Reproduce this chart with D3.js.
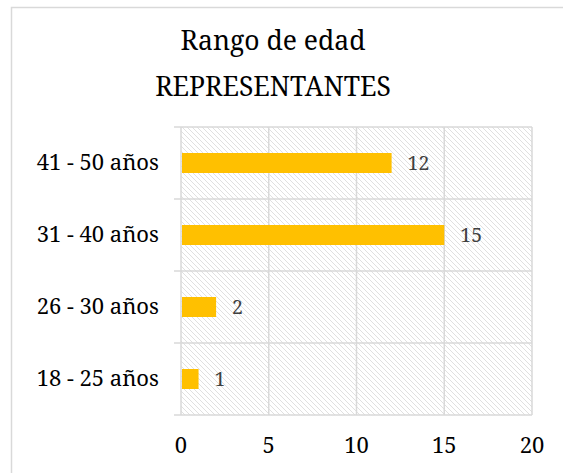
<!DOCTYPE html>
<html>
<head>
<meta charset="utf-8">
<script src="https://cdn.jsdelivr.net/npm/d3@7"></script>
<style>
  body { margin: 0; background: #fff; }
</style>
</head>
<body>
<svg id="chart" width="563" height="473"></svg>
<script>
// chart data
const categories = ['18 - 25 años', '26 - 30 años', '31 - 40 años', '41 - 50 años'];
const values = [1, 2, 15, 12];
const xTicks = [0, 5, 10, 15, 20];
const titleLines = ['Rango de edad', 'REPRESENTANTES'];

const yellow = '#FFC000';
const grid = '#d9d9d9';
const font = 'Noto Serif, Liberation Serif, serif';

var svg = d3.select('#chart').attr('font-family', font);
var margin = { left: 181, right: 31, top: 127, bottom: 58 };
var width = 563, height = 473;

// outer frame (right/bottom edges fall outside the picture)
svg.append('rect')
  .attr('x', 11.5).attr('y', 7.5)
  .attr('width', 600).attr('height', 600)
  .attr('fill', '#fff')
  .attr('stroke', grid).attr('stroke-width', 1.5);

// hatch pattern for the plot area
var defs = svg.append('defs');
var pat = defs.append('pattern')
  .attr('id', 'hatch')
  .attr('patternUnits', 'userSpaceOnUse')
  .attr('width', 5).attr('height', 5);
pat.append('rect').attr('width', 5).attr('height', 5).attr('fill', '#fff');
pat.append('path')
  .attr('d', 'M-1,-1 L6,6 M-1,4 L1,6 M4,-1 L6,1')
  .attr('stroke', '#e0e0e0').attr('stroke-width', 1);

var x = d3.scaleLinear().domain([0, 20]).range([margin.left, width - margin.right]);
var y = d3.scaleBand().domain(categories.slice().reverse())
  .range([margin.top, height - margin.bottom]).paddingInner(0).paddingOuter(0);

svg.append('rect')
  .attr('x', x(0)).attr('y', margin.top)
  .attr('width', x(20) - x(0)).attr('height', height - margin.bottom - margin.top)
  .attr('fill', 'url(#hatch)');

// vertical grid
svg.append('g').selectAll('line').data(xTicks).join('line')
  .attr('x1', d => x(d)).attr('x2', d => x(d))
  .attr('y1', margin.top).attr('y2', height - margin.bottom)
  .attr('stroke', grid).attr('stroke-width', 1.5);

// horizontal grid at category boundaries, with tick marks to the left
var bounds = categories.map(c => y(c)).concat([height - margin.bottom]);
svg.append('g').selectAll('line').data(bounds).join('line')
  .attr('x1', x(0) - 7).attr('x2', x(20))
  .attr('y1', d => d).attr('y2', d => d)
  .attr('stroke', grid).attr('stroke-width', 1.5);

// bars
var barH = 20;
svg.append('g').selectAll('rect').data(values).join('rect')
  .attr('x', x(0) + 1)
  .attr('y', (d, i) => y(categories[i]) + y.bandwidth() / 2 - barH / 2)
  .attr('width', d => x(d) - x(0) - 1)
  .attr('height', barH)
  .attr('fill', yellow);

// value labels
svg.append('g').selectAll('text').data(values).join('text')
  .attr('x', d => x(d) + 16)
  .attr('y', (d, i) => y(categories[i]) + y.bandwidth() / 2 + 7)
  .attr('font-size', 19.5)
  .attr('fill', '#404040')
  .text(d => d);

// category labels
svg.append('g').selectAll('text').data(categories).join('text')
  .attr('x', 159)
  .attr('y', d => y(d) + y.bandwidth() / 2 + 7)
  .attr('text-anchor', 'end')
  .attr('font-size', 22)
  .attr('fill', '#000')
  .text(d => d);

// x tick labels
svg.append('g').selectAll('text').data(xTicks).join('text')
  .attr('x', d => x(d))
  .attr('y', 453)
  .attr('text-anchor', 'middle')
  .attr('font-size', 22)
  .attr('fill', '#000')
  .text(d => d);

// title
svg.append('g').selectAll('text').data(titleLines).join('text')
  .attr('x', 273)
  .attr('y', (d, i) => 50 + i * 46)
  .attr('text-anchor', 'middle')
  .attr('font-size', 26.5)
  .attr('fill', '#000')
  .text(d => d);
</script>
</body>
</html>
